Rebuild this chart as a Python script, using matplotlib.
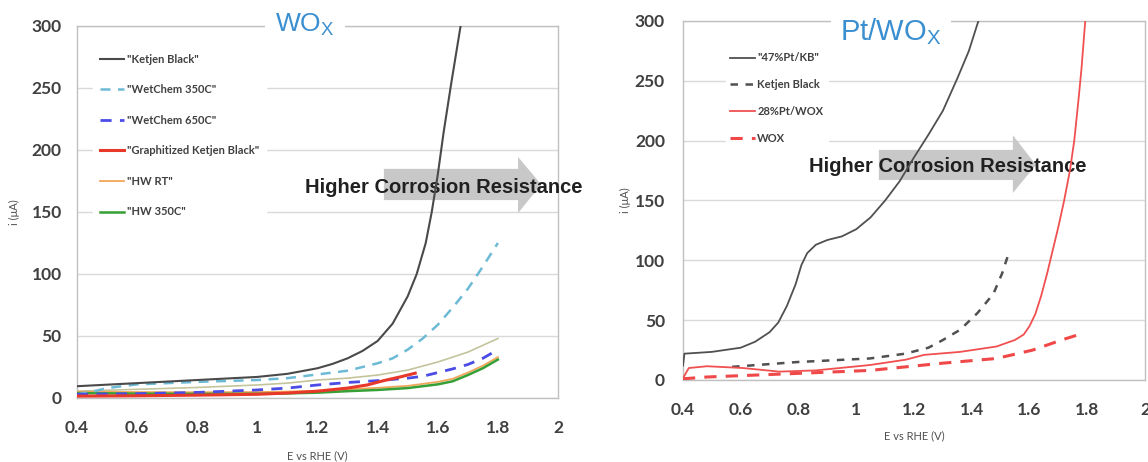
import matplotlib
matplotlib.use("Agg")
import matplotlib.pyplot as plt
from matplotlib.patches import Polygon

plt.rcParams['font.family'] = ['Lato', 'DejaVu Sans']

# ---------------- data: left panel (WOx) ----------------
kb_E = [0.4, 0.6, 0.8, 1.0, 1.1, 1.2, 1.25, 1.3, 1.35, 1.4, 1.45, 1.5, 1.53, 1.56, 1.58, 1.6, 1.62, 1.645, 1.676]
kb_i = [9.5, 12, 14.5, 17, 19.5, 24, 27.5, 32, 38, 46, 60, 82, 100, 125, 150, 180, 215, 254, 300]

wc350_E = [0.4, 0.45, 0.5, 0.6, 0.8, 1.0, 1.1, 1.2, 1.3, 1.4, 1.45, 1.5, 1.55, 1.6, 1.65, 1.7, 1.75, 1.8]
wc350_i = [3, 5, 8, 11, 13, 14.5, 16, 19, 22, 28, 32, 39, 48, 59, 73, 88, 106, 125]

wc650_E = [0.4, 0.6, 0.8, 0.9, 1.0, 1.1, 1.2, 1.3, 1.4, 1.5, 1.55, 1.6, 1.65, 1.7, 1.75, 1.8]
wc650_i = [3, 3.5, 4.5, 5.5, 6.5, 8, 10.5, 12.5, 14, 16, 17.5, 20.5, 23.5, 27, 32, 39]

gkb_E = [0.4, 0.6, 0.8, 1.0, 1.1, 1.2, 1.3, 1.365, 1.42, 1.475, 1.525]
gkb_i = [1.5, 1.8, 2.3, 3, 4, 5.5, 8, 10.5, 14, 17, 20]

hwrt_E = [0.4, 0.6, 0.8, 1.0, 1.1, 1.2, 1.3, 1.4, 1.5, 1.6, 1.65, 1.7, 1.75, 1.8]
hwrt_i = [5, 4.8, 4.6, 4.8, 5.2, 5.8, 7, 8.2, 9.8, 13, 15.5, 20.5, 26, 33]

hw350_E = [0.4, 0.6, 0.8, 1.0, 1.1, 1.2, 1.3, 1.4, 1.5, 1.6, 1.65, 1.7, 1.75, 1.8]
hw350_i = [4, 3.5, 3.3, 3.4, 3.7, 4.3, 5.5, 6.5, 8, 11, 13.5, 18.5, 24, 31]

extra_E = [0.4, 0.6, 0.8, 1.0, 1.1, 1.2, 1.3, 1.4, 1.5, 1.6, 1.7, 1.8]
extra_i = [5.5, 7, 8.5, 10.5, 12, 14.5, 16, 18.5, 22.5, 29, 37, 48]

# ---------------- data: right panel (Pt/WOx) ----------------
ptkb_E = [0.4, 0.405, 0.5, 0.6, 0.65, 0.7, 0.73, 0.76, 0.79, 0.81, 0.83, 0.86, 0.9, 0.95, 1.0, 1.05, 1.1, 1.15, 1.2, 1.25, 1.3, 1.35, 1.39, 1.423]
ptkb_i = [12, 22, 23.5, 27, 32, 40, 48, 62, 80, 96, 106, 113, 117, 120, 126, 136, 150, 166, 186, 205, 225, 252, 275, 300]

kb2_E = [0.57, 0.795, 1.047, 1.17, 1.25, 1.297, 1.36, 1.42, 1.475, 1.505, 1.524]
kb2_i = [11, 15, 18, 22, 27, 33, 42, 56, 72, 89, 103]

ptwox_E = [0.4, 0.42, 0.483, 0.608, 0.733, 0.859, 1.047, 1.172, 1.235, 1.36, 1.486, 1.55, 1.58, 1.6, 1.62, 1.64, 1.66, 1.68, 1.7, 1.72, 1.74, 1.755, 1.77, 1.78, 1.793]
ptwox_i = [1.5, 10, 11.5, 10, 7, 8, 12.5, 17, 21, 23.5, 28, 33.5, 38, 45, 55, 70, 88, 108, 128, 150, 175, 200, 235, 260, 300]

wox_E = [0.4, 0.483, 0.795, 1.047, 1.297, 1.486, 1.611, 1.712, 1.785]
wox_i = [1, 2.5, 5.5, 8, 14, 18, 25, 33.5, 39]

x_ticks = [0.4, 0.6, 0.8, 1.0, 1.2, 1.4, 1.6, 1.8, 2.0]
x_ticklabels = ['0.4', '0.6', '0.8', '1', '1.2', '1.4', '1.6', '1.8', '2']
y_ticks = [0, 50, 100, 150, 200, 250, 300]

W, H = 1148, 462
fig = plt.figure(figsize=(W / 100, H / 100), dpi=100)

def px_axes(l, t, r, b):
    return fig.add_axes([l / W, 1 - b / H, (r - l) / W, (b - t) / H])

axL = px_axes(77, 26, 558, 398)
axR = px_axes(683, 21, 1145, 380)

tick_col = '#404040'
for ax, ypad in ((axL, 11), (axR, 13)):
    ax.set_xlim(0.4, 2.0)
    ax.set_ylim(0, 300)
    ax.set_xticks(x_ticks)
    ax.set_xticklabels(x_ticklabels)
    ax.set_yticks(y_ticks)
    ax.grid(axis='y', color='#d9d9d9', lw=1)
    ax.set_axisbelow(True)
    for s in ax.spines.values():
        s.set_color('#c0c0c0')
        s.set_linewidth(1)
    ax.tick_params(length=0, labelsize=12.5, labelcolor=tick_col)
    ax.tick_params(axis='x', pad=16)
    ax.tick_params(axis='y', pad=ypad)
    for lab in ax.get_xticklabels() + ax.get_yticklabels():
        lab.set_fontweight('bold')
    ax.set_xlabel('E vs RHE (V)', fontsize=8, color='#505050')
    ax.set_ylabel('i (μA)', fontsize=8, color='#505050')

axL.xaxis.labelpad = 10
axL.yaxis.labelpad = 8
axR.xaxis.labelpad = 9
axR.yaxis.labelpad = 3

# ---------------- left panel curves ----------------
axL.plot(extra_E, extra_i, color='#c4c49c', lw=1.2, zorder=3)
axL.plot(kb_E, kb_i, color='#4a4a4a', lw=1.5, label='"Ketjen Black"', zorder=5)
axL.plot(wc350_E, wc350_i, color='#6cbad6', lw=1.8, dashes=(4, 3), label='"WetChem 350C"', zorder=4)
axL.plot(wc650_E, wc650_i, color='#4b4be6', lw=2.0, dashes=(4, 3), label='"WetChem 650C"', zorder=4)
axL.plot(gkb_E, gkb_i, color='#e8382a', lw=2.2, label='"Graphitized Ketjen Black"', zorder=4)
axL.plot(hwrt_E, hwrt_i, color='#f2a65a', lw=1.3, label='"HW RT"', zorder=3)
axL.plot(hw350_E, hw350_i, color='#35a035', lw=1.8, label='"HW 350C"', zorder=3)

legL = axL.legend(loc='upper left', bbox_to_anchor=((93 - 77) / 481, (398 - 47) / 372),
                  borderaxespad=0, frameon=True, fancybox=False, framealpha=1,
                  edgecolor='white', facecolor='white', fontsize=8,
                  handlelength=2.2, handletextpad=0.3, labelspacing=1.76, borderpad=0.6)
for t in legL.get_texts():
    t.set_color('#404040')
    t.set_fontweight('bold')

# ---------------- right panel curves ----------------
axR.plot(ptkb_E, ptkb_i, color='#505050', lw=1.3, label='"47%Pt/KB"', zorder=5)
axR.plot(kb2_E, kb2_i, color='#505050', lw=1.8, dashes=(3, 3), label='Ketjen Black', zorder=4)
axR.plot(ptwox_E, ptwox_i, color='#f05050', lw=1.3, label='28%Pt/WOX', zorder=4)
axR.plot(wox_E, wox_i, color='#f04848', lw=2.2, dashes=(4, 3), label='WOX', zorder=4)

legR = axR.legend(loc='upper left', bbox_to_anchor=((726 - 683) / 462, (380 - 48) / 359),
                  borderaxespad=0, frameon=True, fancybox=False, framealpha=1,
                  edgecolor='white', facecolor='white', fontsize=8,
                  handlelength=2.2, handletextpad=0.2, labelspacing=1.42, borderpad=0.4)
for t in legR.get_texts():
    t.set_color('#404040')
    t.set_fontweight('bold')

# ---------------- arrows and annotation ----------------
def arrow(ax, x0, xh, xt, yb0, yb1, yh0, yh1):
    yc = (yb0 + yb1) / 2
    pts = [(x0, yb0), (xh, yb0), (xh, yh0), (xt, yc), (xh, yh1), (xh, yb1), (x0, yb1)]
    ax.add_patch(Polygon(pts, closed=True, transform=ax.transAxes, facecolor='#c8c8c8',
                         edgecolor='none', zorder=2, clip_on=False))

arrow(axL, 0.638, 0.917, 0.965, 0.532, 0.616, 0.497, 0.648)
axL.text(0.474, 0.552, 'Higher Corrosion Resistance', transform=axL.transAxes,
         fontsize=14.5, fontweight='bold', family=['Liberation Sans', 'DejaVu Sans'],
         color='#202020', va='baseline', ha='left', zorder=3, clip_on=False)

arrow(axR, 0.424, 0.714, 0.764, 0.557, 0.641, 0.521, 0.682)
axR.text(0.273, 0.579, 'Higher Corrosion Resistance', transform=axR.transAxes,
         fontsize=14.5, fontweight='bold', family=['Liberation Sans', 'DejaVu Sans'],
         color='#202020', va='baseline', ha='left', zorder=3, clip_on=False)

# ---------------- panel titles ----------------
title_col = '#3a8fd0'
axL.text((305 - 77) / 481, (398 - 31) / 372, r'WO$_\mathregular{X}$', transform=axL.transAxes,
         fontsize=19, color=title_col, ha='center', va='baseline',
         family=['Liberation Sans', 'DejaVu Sans'], zorder=6,
         bbox=dict(facecolor='white', edgecolor='none', pad=7))
axR.text((891 - 683) / 462, (380 - 40) / 359, r'Pt/WO$_\mathregular{X}$', transform=axR.transAxes,
         fontsize=21, color=title_col, ha='center', va='baseline',
         family=['Liberation Sans', 'DejaVu Sans'], zorder=6,
         bbox=dict(facecolor='white', edgecolor='none', pad=7))

fig.savefig('out.png', dpi=100, facecolor='white')
